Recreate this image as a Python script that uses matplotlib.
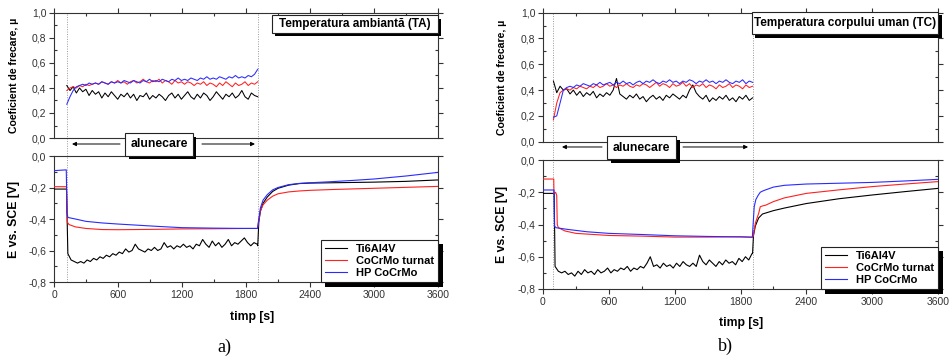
import numpy as np
import matplotlib
matplotlib.use('Agg')
import matplotlib.pyplot as plt
from matplotlib.patches import Rectangle
from matplotlib.transforms import IdentityTransform
from matplotlib.ticker import MultipleLocator, FuncFormatter

plt.rcParams['font.family'] = ['Liberation Sans', 'DejaVu Sans']
plt.rcParams['axes.unicode_minus'] = False

W, H = 950, 359
materials = ['Ti6Al4V', 'CoCrMo turnat', 'HP CoCrMo']
colors = ['#000000', '#ff2020', '#2a2aff']
x_ticks = [0, 600, 1200, 1800, 2400, 3000, 3600]
mu_ticks = [0.0, 0.2, 0.4, 0.6, 0.8, 1.0]
e_ticks = [-0.8, -0.6, -0.4, -0.2, 0.0]

# ---------------- Panel a) : Temperatura ambianta (TA) ----------------
a_slide = (120, 1910)
fa_ti = [0.42, 0.38, 0.41, 0.36, 0.40, 0.37, 0.39, 0.34, 0.38, 0.35, 0.37, 0.32, 0.36, 0.33, 0.37,
         0.34, 0.31, 0.35, 0.33, 0.36, 0.32, 0.35, 0.30, 0.34, 0.33, 0.36, 0.31, 0.34, 0.32, 0.35,
         0.33, 0.30, 0.34, 0.36, 0.32, 0.35, 0.31, 0.34, 0.37, 0.33, 0.31, 0.35, 0.32, 0.36, 0.34,
         0.30, 0.33, 0.37, 0.34, 0.31, 0.35, 0.33, 0.36, 0.32, 0.34, 0.38, 0.33, 0.31, 0.36, 0.34, 0.33]
fa_co = [0.38, 0.40, 0.41, 0.40, 0.42, 0.41, 0.43, 0.42, 0.43, 0.44, 0.43, 0.45, 0.44, 0.43, 0.45,
         0.44, 0.46, 0.44, 0.45, 0.43, 0.45, 0.46, 0.44, 0.45, 0.47, 0.45, 0.44, 0.46, 0.45, 0.47,
         0.44, 0.46, 0.45, 0.43, 0.46, 0.44, 0.45, 0.43, 0.45, 0.44, 0.42, 0.44, 0.43, 0.45, 0.42,
         0.44, 0.43, 0.41, 0.44, 0.42, 0.45, 0.43, 0.41, 0.44, 0.42, 0.43, 0.45, 0.42, 0.44, 0.43, 0.45]
fa_hp = [0.27, 0.33, 0.38, 0.41, 0.42, 0.43, 0.42, 0.44, 0.43, 0.44, 0.43, 0.45, 0.44, 0.43, 0.45,
         0.44, 0.45, 0.44, 0.46, 0.45, 0.44, 0.46, 0.45, 0.44, 0.46, 0.45, 0.47, 0.45, 0.46, 0.45,
         0.47, 0.46, 0.45, 0.47, 0.46, 0.48, 0.46, 0.47, 0.46, 0.48, 0.47, 0.46, 0.48, 0.47, 0.49,
         0.47, 0.48, 0.47, 0.49, 0.48, 0.47, 0.49, 0.48, 0.50, 0.48, 0.49, 0.48, 0.50, 0.49, 0.51, 0.55]

ea_ti_pre_t = [0, 117]
ea_ti_pre_v = [-0.21, -0.21]
ea_ti_noise_span = (130, 1905)
ea_ti_noise = [-0.62, -0.66, -0.67, -0.68, -0.67, -0.68, -0.66, -0.67, -0.65, -0.66, -0.64, -0.65,
               -0.63, -0.64, -0.62, -0.63, -0.61, -0.62, -0.59, -0.61, -0.60, -0.56, -0.59, -0.60,
               -0.61, -0.59, -0.60, -0.58, -0.60, -0.59, -0.55, -0.58, -0.57, -0.59, -0.57, -0.58,
               -0.56, -0.58, -0.57, -0.59, -0.56, -0.57, -0.53, -0.56, -0.58, -0.54, -0.57, -0.55,
               -0.58, -0.56, -0.53, -0.57, -0.55, -0.56, -0.54, -0.52, -0.55, -0.57, -0.55, -0.56]
ea_ti_rec_t = [1910, 1920, 1935, 1960, 2000, 2050, 2100, 2200, 2300, 2400, 2600, 2800, 3000, 3300, 3600]
ea_ti_rec_v = [-0.57, -0.42, -0.35, -0.30, -0.26, -0.225, -0.205, -0.185, -0.175, -0.172, -0.170,
               -0.168, -0.166, -0.161, -0.152]
ea_co_t = [0, 117, 120, 125, 140, 200, 300, 450, 600, 900, 1200, 1500, 1800, 1908,
           1920, 1935, 1960, 2000, 2050, 2100, 2200, 2300, 2400, 2600, 2800, 3000, 3300, 3600]
ea_co_v = [-0.195, -0.195, -0.30, -0.42, -0.435, -0.45, -0.46, -0.467, -0.468, -0.466, -0.463,
           -0.462, -0.46, -0.46,
           -0.41, -0.35, -0.31, -0.28, -0.255, -0.24, -0.228, -0.222, -0.218, -0.213, -0.209,
           -0.205, -0.199, -0.193]
ea_hp_t = [0, 115, 118, 122, 130, 200, 300, 450, 600, 800, 1000, 1200, 1500, 1800, 1908,
           1920, 1935, 1960, 2000, 2050, 2100, 2200, 2300, 2400, 2600, 2800, 3000, 3300, 3600]
ea_hp_v = [-0.093, -0.088, -0.20, -0.36, -0.39, -0.40, -0.415, -0.425, -0.432, -0.44, -0.448,
           -0.455, -0.458, -0.46, -0.46,
           -0.40, -0.33, -0.28, -0.245, -0.215, -0.20, -0.182, -0.174, -0.170, -0.163, -0.155,
           -0.146, -0.127, -0.104]

# ---------------- Panel b) : Temperatura corpului uman (TC) ----------------
b_slide = (90, 1910)
fb_span = (95, 1910)
fb_ti = [0.47, 0.38, 0.43, 0.40, 0.41, 0.37, 0.40, 0.36, 0.39, 0.35, 0.38, 0.36, 0.39, 0.34, 0.37,
         0.35, 0.38, 0.36, 0.40, 0.49, 0.37, 0.35, 0.33, 0.36, 0.34, 0.37, 0.33, 0.35, 0.31, 0.34,
         0.36, 0.33, 0.35, 0.32, 0.36, 0.34, 0.37, 0.35, 0.33, 0.36, 0.34, 0.40, 0.44, 0.38, 0.35,
         0.33, 0.36, 0.31, 0.34, 0.32, 0.35, 0.33, 0.36, 0.32, 0.34, 0.31, 0.35, 0.33, 0.36, 0.32, 0.34]
fb_co = [0.17, 0.30, 0.38, 0.40, 0.41, 0.40, 0.42, 0.41, 0.43, 0.42, 0.41, 0.43, 0.42, 0.44, 0.42,
         0.43, 0.45, 0.43, 0.44, 0.42, 0.44, 0.43, 0.45, 0.43, 0.42, 0.44, 0.43, 0.45, 0.44, 0.42,
         0.44, 0.46, 0.43, 0.45, 0.44, 0.42, 0.45, 0.43, 0.44, 0.46, 0.43, 0.45, 0.42, 0.44, 0.43,
         0.45, 0.42, 0.44, 0.43, 0.41, 0.44, 0.42, 0.43, 0.45, 0.42, 0.44, 0.43, 0.41, 0.44, 0.42, 0.43]
fb_hp = [0.19, 0.20, 0.30, 0.40, 0.42, 0.43, 0.42, 0.44, 0.43, 0.45, 0.44, 0.43, 0.45, 0.44, 0.46,
         0.44, 0.45, 0.46, 0.44, 0.46, 0.45, 0.47, 0.45, 0.46, 0.44, 0.46, 0.47, 0.45, 0.47, 0.46,
         0.48, 0.46, 0.45, 0.47, 0.46, 0.48, 0.46, 0.47, 0.45, 0.47, 0.46, 0.48, 0.47, 0.45, 0.47,
         0.46, 0.48, 0.46, 0.47, 0.45, 0.47, 0.46, 0.48, 0.46, 0.45, 0.47, 0.46, 0.48, 0.45, 0.47, 0.46]

eb_ti_pre_t = [0, 102]
eb_ti_pre_v = [-0.207, -0.207]
eb_ti_noise_span = (110, 1905)
eb_ti_noise = [-0.66, -0.69, -0.70, -0.69, -0.71, -0.70, -0.72, -0.69, -0.71, -0.68, -0.70, -0.69,
               -0.71, -0.68, -0.70, -0.69, -0.67, -0.70, -0.68, -0.69, -0.67, -0.68, -0.66, -0.69,
               -0.67, -0.68, -0.66, -0.67, -0.64, -0.60, -0.66, -0.65, -0.67, -0.64, -0.66, -0.65,
               -0.67, -0.64, -0.66, -0.63, -0.65, -0.66, -0.64, -0.66, -0.59, -0.63, -0.65, -0.62,
               -0.64, -0.66, -0.63, -0.65, -0.62, -0.64, -0.63, -0.65, -0.61, -0.63, -0.60, -0.62, -0.58]
eb_ti_rec_t = [1910, 1918, 1935, 1965, 2000, 2100, 2200, 2400, 2700, 3000, 3300, 3600]
eb_ti_rec_v = [-0.58, -0.47, -0.41, -0.36, -0.335, -0.314, -0.298, -0.27, -0.24, -0.217, -0.196, -0.176]
eb_co_t = [0, 98, 100, 115, 125, 130, 140, 200, 300, 600, 900, 1200, 1500, 1800, 1908,
           1915, 1936, 1966, 1980, 2000, 2030, 2100, 2200, 2400, 2700, 3000, 3300, 3600]
eb_co_v = [-0.118, -0.118, -0.21, -0.20, -0.22, -0.40, -0.42, -0.44, -0.455, -0.468, -0.472,
           -0.478, -0.478, -0.476, -0.48,
           -0.475, -0.39, -0.33, -0.29, -0.285, -0.28, -0.258, -0.235, -0.207, -0.185, -0.165,
           -0.149, -0.134]
eb_hp_t = [0, 100, 104, 120, 220, 400, 600, 900, 1200, 1500, 1800, 1908,
           1915, 1925, 1940, 1960, 1980, 2010, 2100, 2200, 2400, 2700, 3000, 3300, 3600]
eb_hp_v = [-0.186, -0.186, -0.41, -0.42, -0.43, -0.445, -0.455, -0.462, -0.47, -0.474, -0.477, -0.478,
           -0.40, -0.29, -0.245, -0.22, -0.20, -0.19, -0.168, -0.157, -0.149, -0.144, -0.139,
           -0.13, -0.12]

fig = plt.figure(figsize=(W / 100, H / 100), dpi=100)
legends = []


def rect(l, t, r, b):
    return [l / W, 1 - b / H, (r - l) / W, (b - t) / H]


def shadow_box(l, t, r, b, sh=3.5):
    fig.add_artist(Rectangle(((l + sh) / W, 1 - (b + sh) / H), (r - l) / W, (b - t) / H,
                             transform=fig.transFigure, facecolor='black', edgecolor='none', zorder=5))
    fig.add_artist(Rectangle((l / W, 1 - b / H), (r - l) / W, (b - t) / H,
                             transform=fig.transFigure, facecolor='white', edgecolor='#222222',
                             lw=0.8, zorder=6))


def comma_fmt(v, pos):
    if abs(v) < 1e-9:
        v = 0.0
    return f"{v:.1f}".replace('.', ',')


def style_axes(ax, top_panel):
    for s in ax.spines.values():
        s.set_color('#333333')
        s.set_linewidth(0.8)
    ax.set_xlim(0, 3600)
    ax.xaxis.set_major_locator(MultipleLocator(600))
    ax.xaxis.set_minor_locator(MultipleLocator(300))
    ax.yaxis.set_minor_locator(MultipleLocator(0.1))
    ax.yaxis.set_major_formatter(FuncFormatter(comma_fmt))
    ax.tick_params(which='major', direction='out', length=3.5, width=0.8, color='#333333',
                   labelsize=7.5, labelcolor='#333333', right=True, left=True,
                   top=top_panel, bottom=not top_panel, pad=2)
    ax.tick_params(which='minor', direction='in', length=2.5, width=0.8, color='#333333',
                   right=True, left=True, top=top_panel, bottom=not top_panel)
    ax.tick_params(axis='y', which='major', labelright=False)
    if top_panel:
        ax.tick_params(labelbottom=False)


def draw_panel(geo, slide, fr_span, fr_vals, pot_series, title, title_box, slide_box, arrows,
               ylab_x, xlab_xy, letter, letter_xy):
    l, r, t1, b1, t2, b2 = geo
    axf = fig.add_axes(rect(l, t1, r, b1))
    axe = fig.add_axes(rect(l, t2, r, b2))
    style_axes(axf, True)
    style_axes(axe, False)
    axf.set_ylim(0, 1.0)
    axf.set_yticks(mu_ticks)
    axe.set_ylim(-0.8, 0.0)
    axe.set_yticks(e_ticks)
    axe.set_xticks(x_ticks)
    axe.set_xticklabels([str(v) for v in x_ticks])

    gap = (t2 - b1) / (b1 - t1)
    for xv in slide:
        axf.axvline(xv, ymin=-gap, ymax=1, color='#999999', lw=0.7, ls=(0, (1, 1.5)),
                    clip_on=False, zorder=1)
        axe.axvline(xv, color='#999999', lw=0.7, ls=(0, (1, 1.5)), zorder=1)

    for vals, c in zip(fr_vals, colors):
        tt = np.linspace(fr_span[0], fr_span[1], len(vals))
        axf.plot(tt, vals, color=c, lw=0.75, zorder=3)

    for (tt, vv), c, m in zip(pot_series, colors, materials):
        axe.plot(tt, vv, color=c, lw=0.8, label=m, zorder=3)

    leg = axe.legend(loc='lower right', bbox_to_anchor=(1, 0), borderaxespad=0,
                     frameon=True, fancybox=False, edgecolor='#222222', framealpha=1,
                     prop={'weight': 'bold', 'size': 8}, handlelength=2.0,
                     handletextpad=0.8, borderpad=0.35, labelspacing=0.2)
    leg.get_frame().set_linewidth(0.8)
    leg.set_zorder(10)
    legends.append((axe, leg))

    # title box
    shadow_box(*title_box)
    fig.text((title_box[0] + title_box[2]) / 2 / W, 1 - (title_box[1] + title_box[3]) / 2 / H,
             title, ha='center', va='center', fontsize=8.5, fontweight='bold', zorder=7)
    # sliding box
    shadow_box(*slide_box)
    fig.text((slide_box[0] + slide_box[2]) / 2 / W, 1 - (slide_box[1] + slide_box[3]) / 2 / H,
             'alunecare', ha='center', va='center', fontsize=8.8, fontweight='bold', zorder=7)
    ay = arrows[0]
    for x0, x1 in arrows[1:]:
        axf.annotate('', xy=(x1, ay), xytext=(x0, ay), xycoords=axf.get_xaxis_transform(),
                     annotation_clip=False,
                     arrowprops=dict(arrowstyle='-|>', lw=0.7, color='black',
                                     mutation_scale=6, shrinkA=0, shrinkB=0))

    fig.text(ylab_x / W, 1 - (t1 + b1) / 2 / H, 'Coeficient de frecare, µ', rotation=90,
             ha='center', va='center', fontsize=7.6, fontweight='bold')
    fig.text(ylab_x / W, 1 - (t2 + b2) / 2 / H, 'E vs. SCE [V]', rotation=90,
             ha='center', va='center', fontsize=8.8, fontweight='bold')
    fig.text(xlab_xy[0] / W, 1 - xlab_xy[1] / H, 'timp [s]', ha='center', va='center',
             fontsize=8.8, fontweight='bold')
    fig.text(letter_xy[0] / W, 1 - letter_xy[1] / H, letter, ha='center', va='center',
             fontsize=13, family=['Liberation Serif', 'DejaVu Serif'])


pot_a = [
    (list(ea_ti_pre_t) + list(np.linspace(*ea_ti_noise_span, len(ea_ti_noise))) + ea_ti_rec_t,
     ea_ti_pre_v + ea_ti_noise + ea_ti_rec_v),
    (ea_co_t, ea_co_v),
    (ea_hp_t, ea_hp_v),
]
pot_b = [
    (list(eb_ti_pre_t) + list(np.linspace(*eb_ti_noise_span, len(eb_ti_noise))) + eb_ti_rec_t,
     eb_ti_pre_v + eb_ti_noise + eb_ti_rec_v),
    (eb_co_t, eb_co_v),
    (eb_hp_t, eb_hp_v),
]

draw_panel((54, 438, 13, 138, 156, 282), a_slide, a_slide, [fa_ti, fa_co, fa_hp], pot_a,
           'Temperatura ambiantă (TA)', (271.7, 15, 437.7, 32.7), (125, 133.3, 192.7, 155.7),
           (-0.048, (619, 169), (1387, 1884)), 14, (252, 317), 'a)', (224, 347))
draw_panel((543, 938, 12.7, 141.7, 160, 289), b_slide, fb_span, [fb_ti, fb_co, fb_hp], pot_b,
           'Temperatura corpului uman (TC)', (751.7, 11.7, 938.3, 34.3), (607.3, 136.3, 676, 159.3),
           (-0.041, (538, 173), (1276, 1869)), 502, (741, 323), 'b)', (725, 346))

# thick black drop shadow behind each legend frame (display pixels)
fig.canvas.draw()
renderer = fig.canvas.get_renderer()
for axe, leg in legends:
    bb = leg.get_frame().get_window_extent(renderer)
    sh = 4.5
    axe.add_patch(Rectangle((bb.x0 + sh, bb.y0 - sh), bb.width, bb.height,
                            transform=IdentityTransform(), facecolor='black',
                            edgecolor='none', clip_on=False, zorder=9))

fig.savefig('out.png', dpi=100)
